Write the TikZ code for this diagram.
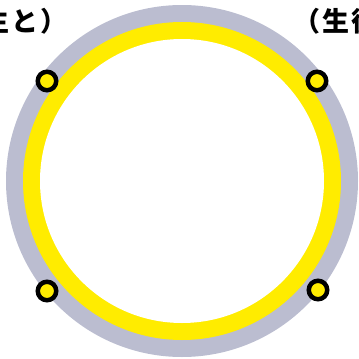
\documentclass[tikz,border=0pt]{standalone}
\usepackage{fontspec}
\newfontfamily\jp{Noto Sans CJK JP}
\definecolor{ringgray}{RGB}{187,189,208}
\definecolor{ringyellow}{RGB}{255,236,0}
\begin{document}
\begin{tikzpicture}[x=1pt,y=-1pt,
  dot/.style={circle,draw=black,line width=4.5pt,fill=ringyellow,minimum size=18.5pt,inner sep=0pt},
  lbl/.style={font=\jp\bfseries\fontsize{27}{27}\selectfont\addfontfeature{LetterSpace=8},text=black,inner sep=0pt}]
\useasboundingbox (0,0) rectangle (359,359);
\clip (0,0) rectangle (359,359);
\coordinate (c) at (182,181);
\fill[ringgray] (c) circle[radius=176];
\fill[ringyellow] (c) circle[radius=159];
\fill[white] (c) circle[radius=142];
\node[dot] (tl) at (47,81) {};
\node[dot] (tr) at (317,81) {};
\node[dot] (bl) at (47,291) {};
\node[dot] (br) at (318,290) {};
\node[lbl,anchor=base east] (lt) at (68,31.5) {（先生と）};
\node[lbl,anchor=base west] (rt) at (293,31.5) {（生徒と）};
\end{tikzpicture}
\end{document}
